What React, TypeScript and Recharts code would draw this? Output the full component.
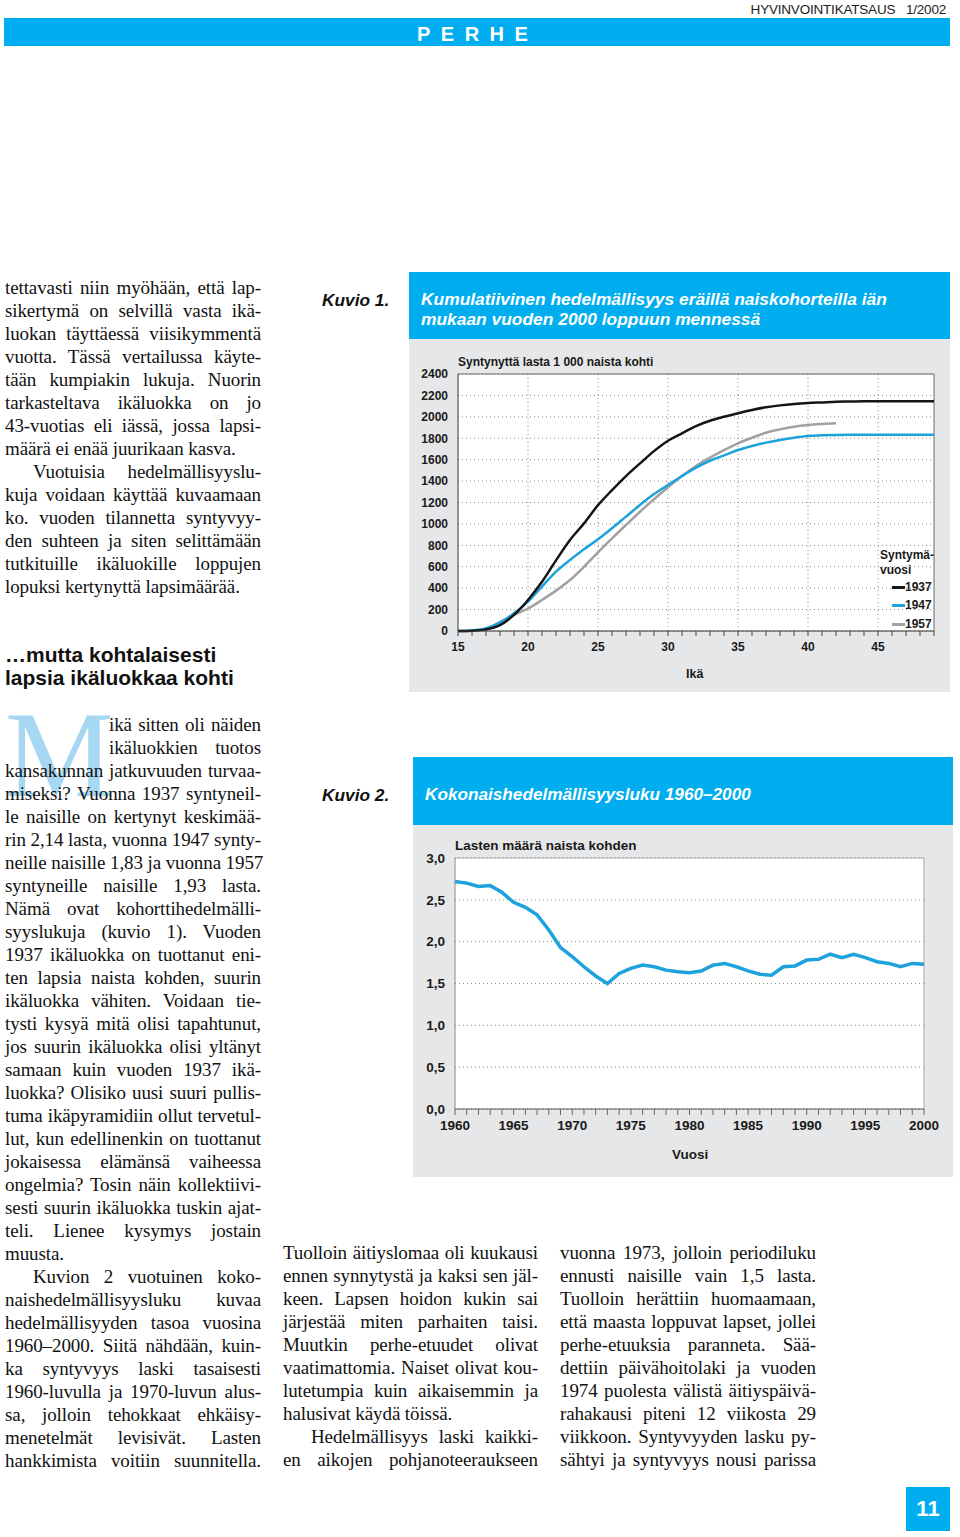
import React from 'react';
import { LineChart, Line, XAxis, YAxis, CartesianGrid, ReferenceLine } from 'recharts';

// ---------- Kuvio 1 data ----------
const ages = [15,16,17,18,19,20,21,22,23,24,25,26,27,28,29,30,31,32,33,34,35,36,37,38,39,40,41,42,43,44,45,46,47,48,49];
const cohort1937 = [0,3,15,55,150,290,460,660,850,1005,1175,1315,1447,1565,1680,1777,1846,1914,1964,2000,2033,2064,2089,2107,2120,2129,2135,2141,2143,2145,2145,2145,2145,2145,2145];
const cohort1947 = [0,5,25,78,165,275,415,555,663,763,856,959,1068,1177,1279,1363,1447,1525,1590,1640,1690,1728,1759,1784,1805,1821,1827,1831,1833,1833,1833,1833,1833,1833,1833];
const cohort1957 = [0,3,20,85,150,210,290,377,476,600,735,865,990,1114,1230,1342,1447,1541,1619,1690,1753,1805,1852,1883,1908,1924,1933,1939,null,null,null,null,null,null,null];
const ageTickLabels = [15,20,25,30,35,40,45];
const ageGridLines = [20,25,30,35,40,45];
const countTicks = [0,200,400,600,800,1000,1200,1400,1600,1800,2000,2200,2400];

// ---------- Kuvio 2 data ----------
const years = [1960,1961,1962,1963,1964,1965,1966,1967,1968,1969,1970,1971,1972,1973,1974,1975,1976,1977,1978,1979,1980,1981,1982,1983,1984,1985,1986,1987,1988,1989,1990,1991,1992,1993,1994,1995,1996,1997,1998,1999,2000];
const tfr = [2.72,2.70,2.66,2.67,2.59,2.47,2.41,2.32,2.14,1.93,1.82,1.70,1.59,1.50,1.62,1.68,1.72,1.70,1.66,1.64,1.63,1.65,1.72,1.74,1.70,1.65,1.61,1.60,1.70,1.71,1.78,1.79,1.85,1.81,1.85,1.81,1.76,1.74,1.70,1.74,1.73];
const yearTickLabels = [1960,1965,1970,1975,1980,1985,1990,1995,2000];
const tfrTicks = [0,0.5,1,1.5,2,2.5,3];

const data1 = ages.map((a, i) => ({ age: a, c1937: cohort1937[i], c1947: cohort1947[i], c1957: cohort1957[i] }));
const data2 = years.map((y, i) => ({ year: y, tfr: tfr[i] }));

// ---------- Text ----------
// "\t" = paragraph indent, trailing "¶" = paragraph end (not justified), "^" = drop-cap indent
const leftTop = [
  'tettavasti niin myöhään, että lap-',
  'sikertymä on selvillä vasta ikä-',
  'luokan täyttäessä viisikymmentä',
  'vuotta. Tässä vertailussa käyte-',
  'tään kumpiakin lukuja. Nuorin',
  'tarkasteltava ikäluokka on jo',
  '43-vuotias eli iässä, jossa lapsi-',
  'määrä ei enää juurikaan kasva.¶',
  '\tVuotuisia hedelmällisyyslu-',
  'kuja voidaan käyttää kuvaamaan',
  'ko. vuoden tilannetta syntyvyy-',
  'den suhteen ja siten selittämään',
  'tutkituille ikäluokille loppujen',
  'lopuksi kertynyttä lapsimäärää.¶',
];
const leftBottom = [
  '^ikä sitten oli näiden',
  '^ikäluokkien tuotos',
  'kansakunnan jatkuvuuden turvaa-',
  'miseksi? Vuonna 1937 syntyneil-',
  'le naisille on kertynyt keskimää-',
  'rin 2,14 lasta, vuonna 1947 synty-',
  'neille naisille 1,83 ja vuonna 1957',
  'syntyneille naisille 1,93 lasta.',
  'Nämä ovat kohorttihedelmälli-',
  'syyslukuja (kuvio 1). Vuoden',
  '1937 ikäluokka on tuottanut eni-',
  'ten lapsia naista kohden, suurin',
  'ikäluokka vähiten. Voidaan tie-',
  'tysti kysyä mitä olisi tapahtunut,',
  'jos suurin ikäluokka olisi yltänyt',
  'samaan kuin vuoden 1937 ikä-',
  'luokka? Olisiko uusi suuri pullis-',
  'tuma ikäpyramidiin ollut tervetul-',
  'lut, kun edellinenkin on tuottanut',
  'jokaisessa elämänsä vaiheessa',
  'ongelmia? Tosin näin kollektiivi-',
  'sesti suurin ikäluokka tuskin ajat-',
  'teli. Lienee kysymys jostain',
  'muusta.¶',
  '\tKuvion 2 vuotuinen koko-',
  'naishedelmällisyysluku kuvaa',
  'hedelmällisyyden tasoa vuosina',
  '1960–2000. Siitä nähdään, kuin-',
  'ka syntyvyys laski tasaisesti',
  '1960-luvulla ja 1970-luvun alus-',
  'sa, jolloin tehokkaat ehkäisy-',
  'menetelmät levisivät. Lasten',
  'hankkimista voitiin suunnitella.',
];
const midCol = [
  'Tuolloin äitiyslomaa oli kuukausi',
  'ennen synnytystä ja kaksi sen jäl-',
  'keen. Lapsen hoidon kukin sai',
  'järjestää miten parhaiten taisi.',
  'Muutkin perhe-etuudet olivat',
  'vaatimattomia. Naiset olivat kou-',
  'lutetumpia kuin aikaisemmin ja',
  'halusivat käydä töissä.¶',
  '\tHedelmällisyys laski kaikki-',
  'en aikojen pohjanoteeraukseen',
];
const rightCol = [
  'vuonna 1973, jolloin periodiluku',
  'ennusti naisille vain 1,5 lasta.',
  'Tuolloin herättiin huomaamaan,',
  'että maasta loppuvat lapset, jollei',
  'perhe-etuuksia paranneta. Sää-',
  'dettiin päivähoitolaki ja vuoden',
  '1974 puolesta välistä äitiyspäivä-',
  'rahakausi piteni 12 viikosta 29',
  'viikkoon. Syntyvyyden lasku py-',
  'sähtyi ja syntyvyys nousi parissa',
];

const SERIF = '"Liberation Serif", "Times New Roman", serif';
const SANS = '"Liberation Sans", Arial, Helvetica, sans-serif';
const BLUE = '#00aeef';
const BOXGRAY = '#e6e7e8';
const LINEBLUE = '#1da2dc';

function TextColumn({ lines, x, y, w }: { lines: string[]; x: number; y: number; w: number }) {
  return (
    <>
      {lines.map((raw, i) => {
        let s = raw;
        let indent = 0;
        let last = false;
        if (s.startsWith('\t')) { indent = 28; s = s.slice(1); }
        if (s.startsWith('^')) { indent = 104; s = s.slice(1); }
        if (s.endsWith('¶')) { last = true; s = s.slice(0, -1); }
        return (
          <div
            key={i}
            style={{
              position: 'absolute',
              left: x + indent,
              top: y + i * 23 - 12,
              width: w - indent,
              height: 24,
              lineHeight: '24px',
              fontFamily: SERIF,
              fontSize: 19,
              letterSpacing: -0.1,
              color: '#111',
              textAlign: 'justify',
              textAlignLast: last ? 'left' : 'justify',
              whiteSpace: 'nowrap',
            }}
          >
            {s}
          </div>
        );
      })}
    </>
  );
}

const abs = (l: number, t: number, extra: React.CSSProperties = {}): React.CSSProperties => ({
  position: 'absolute', left: l, top: t, ...extra,
});

export default function App() {
  const tickStyle1 = { fontFamily: SANS, fontSize: 12, fontWeight: 700, fill: '#1a1a1a' };
  const tickStyle2 = { fontFamily: SANS, fontSize: 13.5, fontWeight: 700, fill: '#1a1a1a' };
  return (
    <div style={{ position: 'absolute', left: 0, top: 0, width: 960, height: 1537, background: '#fff', overflow: 'hidden' }}>
      {/* Header */}
      <div style={abs(690, 2, { width: 256, textAlign: 'right', fontFamily: SANS, fontSize: 13.5, color: '#222', letterSpacing: -0.2 })}>
        HYVINVOINTIKATSAUS&nbsp;&nbsp;&nbsp;1/2002
      </div>
      <div style={abs(4, 18, { width: 946, height: 28, background: BLUE })} />
      <div style={abs(417, 21, { fontFamily: SANS, fontSize: 20, fontWeight: 700, color: '#fff', letterSpacing: 10.5, lineHeight: '26px' })}>
        PERHE
      </div>

      {/* Left column text */}
      <TextColumn lines={leftTop} x={5} y={288} w={256} />
      <div style={abs(5, 643, { fontFamily: SANS, fontSize: 21, fontWeight: 700, color: '#111', lineHeight: '23px' })}>
        …mutta kohtalaisesti<br />lapsia ikäluokkaa kohti
      </div>
      <div style={abs(5, 694, { fontFamily: SERIF, fontSize: 122, lineHeight: '122px', color: '#a6d8f3' })}>M</div>
      <TextColumn lines={leftBottom} x={5} y={725} w={256} />
      <TextColumn lines={midCol} x={283} y={1253} w={255} />
      <TextColumn lines={rightCol} x={560} y={1253} w={256} />

      {/* Kuvio labels */}
      <div style={abs(322, 290, { fontFamily: SANS, fontSize: 17.3, fontWeight: 700, fontStyle: 'italic', color: '#111' })}>Kuvio 1.</div>
      <div style={abs(322, 785, { fontFamily: SANS, fontSize: 17.3, fontWeight: 700, fontStyle: 'italic', color: '#111' })}>Kuvio 2.</div>

      {/* Chart 1 box */}
      <div style={abs(409, 272, { width: 541, height: 420, background: BOXGRAY })} />
      <div style={abs(409, 272, { width: 541, height: 67, background: BLUE })} />
      <div style={abs(421, 289, { fontFamily: SANS, fontSize: 17.4, fontWeight: 700, fontStyle: 'italic', color: '#fff', lineHeight: '20px' })}>
        Kumulatiivinen hedelmällisyys eräillä naiskohorteilla iän<br />mukaan vuoden 2000 loppuun mennessä
      </div>
      <div style={abs(458, 355, { fontFamily: SANS, fontSize: 12, fontWeight: 700, color: '#1a1a1a' })}>Syntynyttä lasta 1 000 naista kohti</div>
      <div style={abs(409, 339)}>
        <LineChart width={541} height={353} data={data1} margin={{ top: 35, right: 16, left: 0, bottom: 0 }}>
          <CartesianGrid vertical={false} fill="#ffffff" stroke="#8a8a8a" strokeDasharray="1 3" />
          {ageGridLines.map((v) => (
            <ReferenceLine key={v} x={v} stroke="#8a8a8a" strokeDasharray="1 3" />
          ))}
          <ReferenceLine y={2400} stroke="#666" />
          <ReferenceLine x={49} stroke="#666" />
          <XAxis
            dataKey="age"
            type="number"
            domain={[15, 49]}
            ticks={ages}
            interval={0}
            tickFormatter={(v: number) => (ageTickLabels.includes(v) ? String(v) : '')}
            tick={tickStyle1}
            tickSize={5}
            tickMargin={6}
            tickLine={{ stroke: '#444' }}
            axisLine={{ stroke: '#333' }}
            height={61}
          />
          <YAxis
            type="number"
            domain={[0, 2400]}
            ticks={countTicks}
            interval={0}
            tick={tickStyle1}
            tickSize={0}
            tickMargin={10}
            axisLine={{ stroke: '#333' }}
            tickLine={false}
            width={49}
          />
          <Line type="monotone" dataKey="c1957" stroke="#a2a2a2" strokeWidth={2.5} dot={false} isAnimationActive={false} connectNulls={false} />
          <Line type="monotone" dataKey="c1947" stroke={LINEBLUE} strokeWidth={2.5} dot={false} isAnimationActive={false} />
          <Line type="monotone" dataKey="c1937" stroke="#151515" strokeWidth={2.5} dot={false} isAnimationActive={false} />
        </LineChart>
      </div>
      {/* Legend chart 1 */}
      <div style={abs(880, 548, { fontFamily: SANS, fontSize: 12, fontWeight: 700, color: '#1a1a1a', lineHeight: '15px' })}>
        Syntymä-<br />vuosi
      </div>
      {[
        { label: '1937', color: '#151515', y: 587 },
        { label: '1947', color: LINEBLUE, y: 605 },
        { label: '1957', color: '#a2a2a2', y: 624 },
      ].map((l) => (
        <React.Fragment key={l.label}>
          <div style={abs(892, l.y - 1.5, { width: 13, height: 3, background: l.color })} />
          <div style={abs(905, l.y - 8, { fontFamily: SANS, fontSize: 12, fontWeight: 700, color: '#1a1a1a', lineHeight: '16px' })}>{l.label}</div>
        </React.Fragment>
      ))}
      <div style={abs(686, 667, { fontFamily: SANS, fontSize: 12.5, fontWeight: 700, color: '#1a1a1a' })}>Ikä</div>

      {/* Chart 2 box */}
      <div style={abs(413, 757, { width: 540, height: 420, background: BOXGRAY })} />
      <div style={abs(413, 757, { width: 540, height: 68, background: BLUE })} />
      <div style={abs(425, 784, { fontFamily: SANS, fontSize: 17.2, fontWeight: 700, fontStyle: 'italic', color: '#fff' })}>
        Kokonaishedelmällisyysluku 1960–2000
      </div>
      <div style={abs(455, 838, { fontFamily: SANS, fontSize: 13.5, fontWeight: 700, color: '#1a1a1a' })}>Lasten määrä naista kohden</div>
      <div style={abs(413, 825)}>
        <LineChart width={540} height={352} data={data2} margin={{ top: 33, right: 29, left: 0, bottom: 0 }}>
          <CartesianGrid vertical={false} fill="#ffffff" stroke="#8a8a8a" strokeDasharray="1 3" />
          <ReferenceLine y={3} stroke="#aaa" />
          <ReferenceLine x={2000} stroke="#aaa" />
          <XAxis
            dataKey="year"
            type="number"
            domain={[1960, 2000]}
            ticks={years}
            interval={0}
            tickFormatter={(v: number) => (yearTickLabels.includes(v) ? String(v) : '')}
            tick={tickStyle2}
            tickSize={6}
            tickMargin={5}
            tickLine={{ stroke: '#666' }}
            axisLine={{ stroke: '#555' }}
            height={68}
          />
          <YAxis
            type="number"
            domain={[0, 3]}
            ticks={tfrTicks}
            interval={0}
            tickFormatter={(v: number) => v.toFixed(1).replace('.', ',')}
            tick={tickStyle2}
            tickSize={0}
            tickMargin={10}
            axisLine={{ stroke: '#888' }}
            tickLine={false}
            width={42}
          />
          <Line type="linear" dataKey="tfr" stroke={LINEBLUE} strokeWidth={3.5} dot={false} isAnimationActive={false} />
        </LineChart>
      </div>
      <div style={abs(672, 1147, { fontFamily: SANS, fontSize: 13.5, fontWeight: 700, color: '#1a1a1a' })}>Vuosi</div>

      {/* Page number */}
      <div style={abs(906, 1487, { width: 44, height: 44, background: BLUE, color: '#fff', fontFamily: SANS, fontWeight: 700, fontSize: 22, lineHeight: '44px', textAlign: 'center' })}>11</div>
    </div>
  );
}
